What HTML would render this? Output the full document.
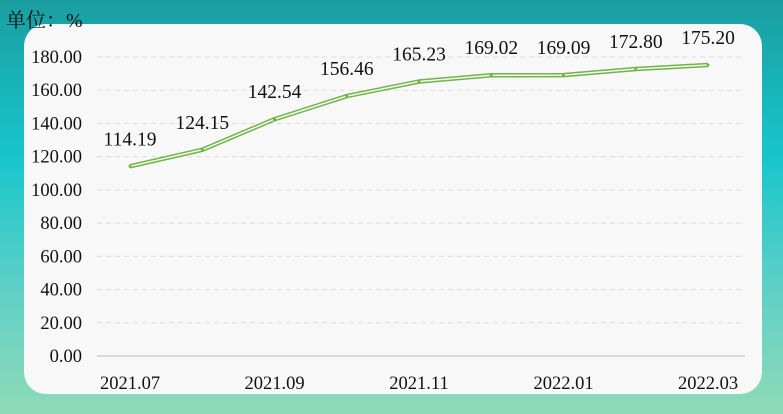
<!DOCTYPE html>
<html><head><meta charset="utf-8"><style>
body{margin:0;width:783px;height:414px;overflow:hidden;background:linear-gradient(180deg,#1a9ea0 0%,#17c6cc 38%,#5fd0c6 70%,#8fdab8 100%);font-family:"Liberation Serif","Noto Serif CJK SC",serif;}
#panel{position:absolute;left:24px;top:24px;width:738px;height:370px;background:#f7f8f7;border-radius:22px;}
#unit{position:absolute;left:6px;top:4px;font-size:20px;color:#111;}
svg{position:absolute;left:0;top:0;}
</style></head><body>
<div id="panel"></div>
<div id="unit">单位：%</div>
<svg id="c" width="783" height="414"></svg>
<script>
const categories=["2021.07","2021.08","2021.09","2021.10","2021.11","2021.12","2022.01","2022.02","2022.03"];
const values=[114.19,124.15,142.54,156.46,165.23,169.02,169.09,172.80,175.20];
const yTicks=[0,20,40,60,80,100,120,140,160,180];
const NS="http://www.w3.org/2000/svg",svg=document.getElementById('c');
const x0=97,x1=745,y0=356,y1=57,yMax=180;
const y=v=>y0-(v/yMax)*(y0-y1);
const step=(708-130)/(categories.length-1);
const x=i=>130+i*step;
function mk(t,a,txt){const e=document.createElementNS(NS,t);for(const k in a)e.setAttribute(k,a[k]);if(txt!==undefined)e.textContent=txt;svg.appendChild(e);return e;}
yTicks.forEach(t=>{
 const g=mk('line',{x1:x0,x2:x1,y1:y(t),y2:y(t),stroke:t===0?'#b8bcc8':'#dcdcdc','stroke-dasharray':t===0?'':'5,4','stroke-width':1});
 
 
 const l=mk('text',{x:82,y:y(t)+6,'text-anchor':'end','font-size':18.5,fill:'#111'},t.toFixed(2));
 
 
});
categories.forEach((c,i)=>{if(i%2)return;
 const l=mk('text',{x:x(i),y:389,'text-anchor':'middle','font-size':18.5,fill:'#111'},c);
 
 
});
const pts=values.map((v,i)=>x(i)+','+y(v)).join(' ');
const o=mk('polyline',{points:pts,fill:'none',stroke:'#72b34a','stroke-width':4.5,'stroke-linejoin':'round'});


const inn=mk('polyline',{points:pts,fill:'none',stroke:'#f4f8f0','stroke-width':1.5,'stroke-linejoin':'round'});


values.forEach((v,i)=>{
 const p=mk('circle',{cx:x(i),cy:y(v),r:1.5,fill:'#72b34a'});
 
 
 const l=mk('text',{x:x(i),y:y(v)-21,'text-anchor':'middle','font-size':19.5,fill:'#111'},v.toFixed(2));
 
 
});
</script>
</body></html>
